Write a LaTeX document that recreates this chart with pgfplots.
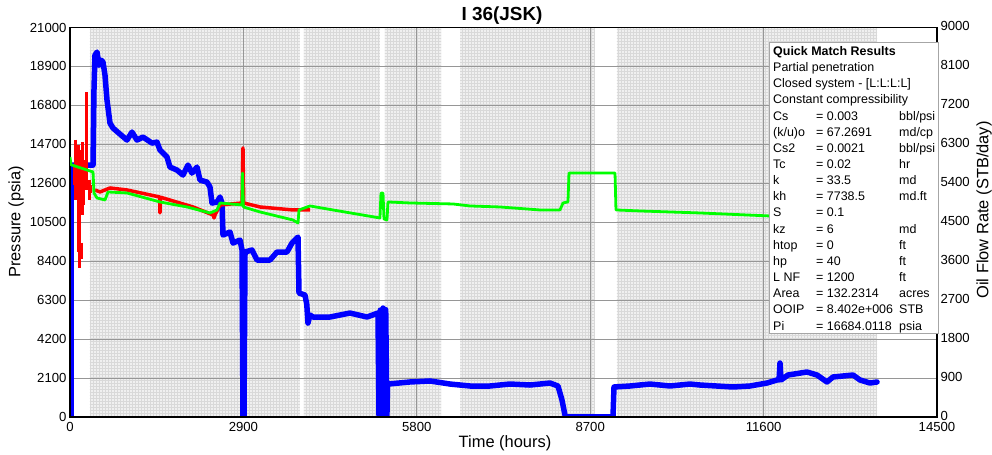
\documentclass[border=0pt]{standalone}
\usepackage{pgfplots}
\pgfplotsset{compat=1.18}
\usepackage{fontspec}
\setmainfont{Liberation Sans}
\usetikzlibrary{patterns}

\definecolor{rateblue}{RGB}{0,0,255}
\definecolor{presred}{RGB}{255,0,0}
\definecolor{modelgreen}{RGB}{0,255,0}
\definecolor{gridgray}{RGB}{150,150,150}
\definecolor{shadegray}{RGB}{200,200,200}

% fine grid used to mark the periods with recorded data
\pgfdeclarepatternformonly{finegrid}{\pgfpoint{-0.5bp}{-0.5bp}}{\pgfpoint{3.5bp}{3.5bp}}{\pgfpoint{3bp}{3bp}}{
  \pgfsetlinewidth{0.7bp}
  \pgfpathmoveto{\pgfpoint{0bp}{0bp}}\pgfpathlineto{\pgfpoint{0bp}{3.1bp}}
  \pgfpathmoveto{\pgfpoint{0bp}{0bp}}\pgfpathlineto{\pgfpoint{3.1bp}{0bp}}
  \pgfusepath{stroke}
}
\tikzset{datashade/.style={fill=black, fill opacity=0.06, postaction={pattern=finegrid, pattern color=shadegray!70}}}

\newcommand{\ticksize}{\fontsize{13.2}{15}\selectfont}
\newcommand{\labelsize}{\fontsize{16.5}{19}\selectfont}
\newcommand{\boxsize}{\fontsize{12.5}{14}\selectfont}

\pgfplotsset{
  common/.style={
    at={(70bp,38bp)}, anchor=south west,
    scale only axis, width=867bp, height=389.5bp,
    xmin=0, xmax=14500,
    xtick={0,2900,5800,8700,11600,14500},
    scaled ticks=false,
    axis line style={line width=1.6bp, black},
    major tick length=0pt,
    tick label style={font=\ticksize},
    xticklabel style={yshift=-2bp},
    /pgf/number format/fixed,
    /pgf/number format/1000 sep={},
    /pgf/number format/assume math mode=true,
  }
}

\begin{document}
\begin{tikzpicture}[x=1bp,y=1bp]
\useasboundingbox (0,0) rectangle (992,455);

% oil rate axis (right), with the grid and the shaded periods
\begin{axis}[common,
  ymin=0, ymax=9000,
  ytick={0,900,1800,2700,3600,4500,5400,6300,7200,8100,9000},
  ytick pos=right, xtick pos=bottom,
  yticklabel style={yshift=1.5bp},
  grid=major, major grid style={draw=gridgray, line width=0.7bp},
]
  \fill[datashade] (axis cs:334,0) rectangle (axis cs:3846,9000);
  \fill[datashade] (axis cs:3913,0) rectangle (axis cs:5184,9000);
  \fill[datashade] (axis cs:5268,0) rectangle (axis cs:6205,9000);
  \fill[datashade] (axis cs:6523,0) rectangle (axis cs:8780,9000);
  \fill[datashade] (axis cs:9148,0) rectangle (axis cs:13497,9000);
  % major grid lines again, above the shading
  \pgfplotsinvokeforeach{2900,5800,8700,11600}{
    \draw[gridgray, line width=0.7bp] (axis cs:#1,0) -- (axis cs:#1,9000);
  }
  \pgfplotsinvokeforeach{900,1800,2700,3600,4500,5400,6300,7200,8100}{
    \draw[gridgray, line width=0.7bp] (axis cs:0,#1) -- (axis cs:14500,#1);
  }

  \addplot[rateblue, line width=5.5bp, line join=round, line cap=round] coordinates {
    (17,0) (17,5820) (385,5820) (401,7554) (418,8362) (452,8432) (485,8131)
    (518,8247) (552,8200) (585,7900) (619,7323) (669,6791) (719,6676)
    (836,6537) (953,6399) (1037,6584) (1120,6399) (1221,6468) (1371,6329)
    (1455,6352) (1505,6168) (1622,6006) (1672,5775) (1789,5706) (1890,5590)
    (1973,5821) (2040,5636) (2124,5775) (2174,5475) (2291,5429) (2341,5313)
    (2375,4943) (2458,4966) (2509,5082) (2542,4943) (2559,4205) (2676,4274)
    (2726,4020) (2843,4089) (2877,3858) (2893,0) (2910,0) (2927,3812)
    (3044,3858) (3127,3627) (3345,3627) (3462,3812) (3629,3812) (3713,4020)
    (3813,4158) (3830,2864) (3930,2818) (3960,2600) (3980,2171) (4014,2356)
    (4064,2310) (4348,2310) (4683,2402) (4967,2310) (5151,2402) (5168,0)
    (5190,2470) (5210,0) (5235,2518) (5255,0) (5280,2480) (5300,0)
    (5310,760) (5686,809) (6021,832) (6355,762) (6690,716) (7024,716)
    (7358,762) (7693,739) (8028,785) (8161,716) (8228,393) (8278,46)
    (8295,0) (9081,0) (9098,693) (9365,716) (9700,762) (10034,716)
    (10369,762) (10536,739) (11088,693) (11372,716) (11657,785) (11824,855)
    (11858,855) (11874,1247) (11891,855) (12008,970) (12325,1040)
    (12493,970) (12660,809) (12760,924) (13095,970) (13212,855)
    (13379,785) (13497,809)
  };
\end{axis}

% pressure axis (left)
\begin{axis}[common,
  ymin=0, ymax=21000,
  ytick={0,2100,4200,6300,8400,10500,12600,14700,16800,18900,21000},
  ytick pos=left, xticklabels={},
  unbounded coords=jump,
]
  % measured pressure, early scatter
  \addplot[presred, line width=3bp] coordinates {
    (67,13600) (67,12500) (100,nan)
    (100,14950) (100,11700) (110,nan)
    (134,14650) (134,9800) (140,nan)
    (150,12000) (150,8900) (160,nan)
    (167,14400) (167,8050) (175,nan)
    (184,9400) (184,8500) (190,nan)
    (201,14800) (201,10900) (210,nan)
    (234,13850) (234,11450) (240,nan)
    (268,13300) (268,12250) (275,nan)
    (284,17520) (284,12400) (300,nan)
    (318,12800) (318,11700) (330,nan)
    (351,12500) (351,12100)
  };
  % measured pressure
  \addplot[presred, line width=3.5bp, line join=round] coordinates {
    (418,12240) (502,12132) (669,12348) (953,12240) (1500,11862) (1505,11000)
    (1512,11850) (2057,11323) (2391,10892) (2410,10730) (2425,10892)
    (2509,11431) (2877,11539) (2893,14505) (2905,11539) (3178,11323)
    (3729,11162) (4014,11162)
  };
  % model pressure
  \addplot[modelgreen, line width=2.8bp, line join=round] coordinates {
    (0,14019) (17,13600) (385,13210) (401,12078) (452,11808) (585,11701)
    (636,12132) (953,12078) (1505,11593) (1957,11323) (2341,11000)
    (2458,11162) (2509,11539) (2877,11431) (2885,13156) (2900,11323)
    (3178,11054) (3729,10622) (3813,10460) (3830,11162) (4014,11377)
    (4398,11162) (5184,10730) (5201,12078) (5235,12078) (5251,10676)
    (5301,10622) (5318,11593) (5686,11539) (6405,11485) (6690,11377)
    (7191,11323) (7860,11162) (8195,11162) (8245,11539) (8328,11593)
    (8345,13156) (9115,13156) (9131,11162) (9533,11108) (10536,11000)
    (11707,10838)
  };
\end{axis}

% titles and axis labels
\node[font=\bfseries\fontsize{19}{22}\selectfont] at (502,439) {I 36(JSK)};
\node[font=\labelsize] at (505,12) {Time (hours)};
\node[font=\labelsize, rotate=90] at (16,233) {Pressure (psia)};
\node[font=\labelsize, rotate=90] at (984,245) {Oil Flow Rate (STB/day)};

% results panel
\draw[draw=black!35, fill=white, line width=0.6bp] (769.5,412.7) rectangle (938,121.5);
\begin{scope}[every node/.style={anchor=base west, inner sep=0pt, font=\boxsize}]
  \node[font=\boxsize\bfseries] at (773,399.5) {Quick Match Results};
  \node at (773,383.35) {Partial penetration};
  \node at (773,367.2) {Closed system - [L:L:L:L]};
  \node at (773,351.05) {Constant compressibility};
  \node at (773,334.9) {Cs};      \node at (816,334.9) {= 0.003};      \node at (899,334.9) {bbl/psi};
  \node at (773,318.75) {(k/u)o}; \node at (816,318.75) {= 67.2691};  \node at (899,318.75) {md/cp};
  \node at (773,302.6) {Cs2};     \node at (816,302.6) {= 0.0021};     \node at (899,302.6) {bbl/psi};
  \node at (773,286.45) {Tc};     \node at (816,286.45) {= 0.02};      \node at (899,286.45) {hr};
  \node at (773,270.3) {k};       \node at (816,270.3) {= 33.5};       \node at (899,270.3) {md};
  \node at (773,254.15) {kh};     \node at (816,254.15) {= 7738.5};    \node at (899,254.15) {md.ft};
  \node at (773,238.0) {S};       \node at (816,238.0) {= 0.1};
  \node at (773,221.85) {kz};     \node at (816,221.85) {= 6};         \node at (899,221.85) {md};
  \node at (773,205.7) {htop};    \node at (816,205.7) {= 0};          \node at (899,205.7) {ft};
  \node at (773,189.55) {hp};     \node at (816,189.55) {= 40};        \node at (899,189.55) {ft};
  \node at (773,173.4) {L NF};    \node at (816,173.4) {= 1200};       \node at (899,173.4) {ft};
  \node at (773,157.25) {Area};   \node at (816,157.25) {= 132.2314};  \node at (899,157.25) {acres};
  \node at (773,141.1) {OOIP};    \node at (816,141.1) {= 8.402e+006}; \node at (899,141.1) {STB};
  \node at (773,124.95) {Pi};     \node at (816,124.95) {= 16684.0118};\node at (899,124.95) {psia};
\end{scope}
\end{tikzpicture}
\end{document}
